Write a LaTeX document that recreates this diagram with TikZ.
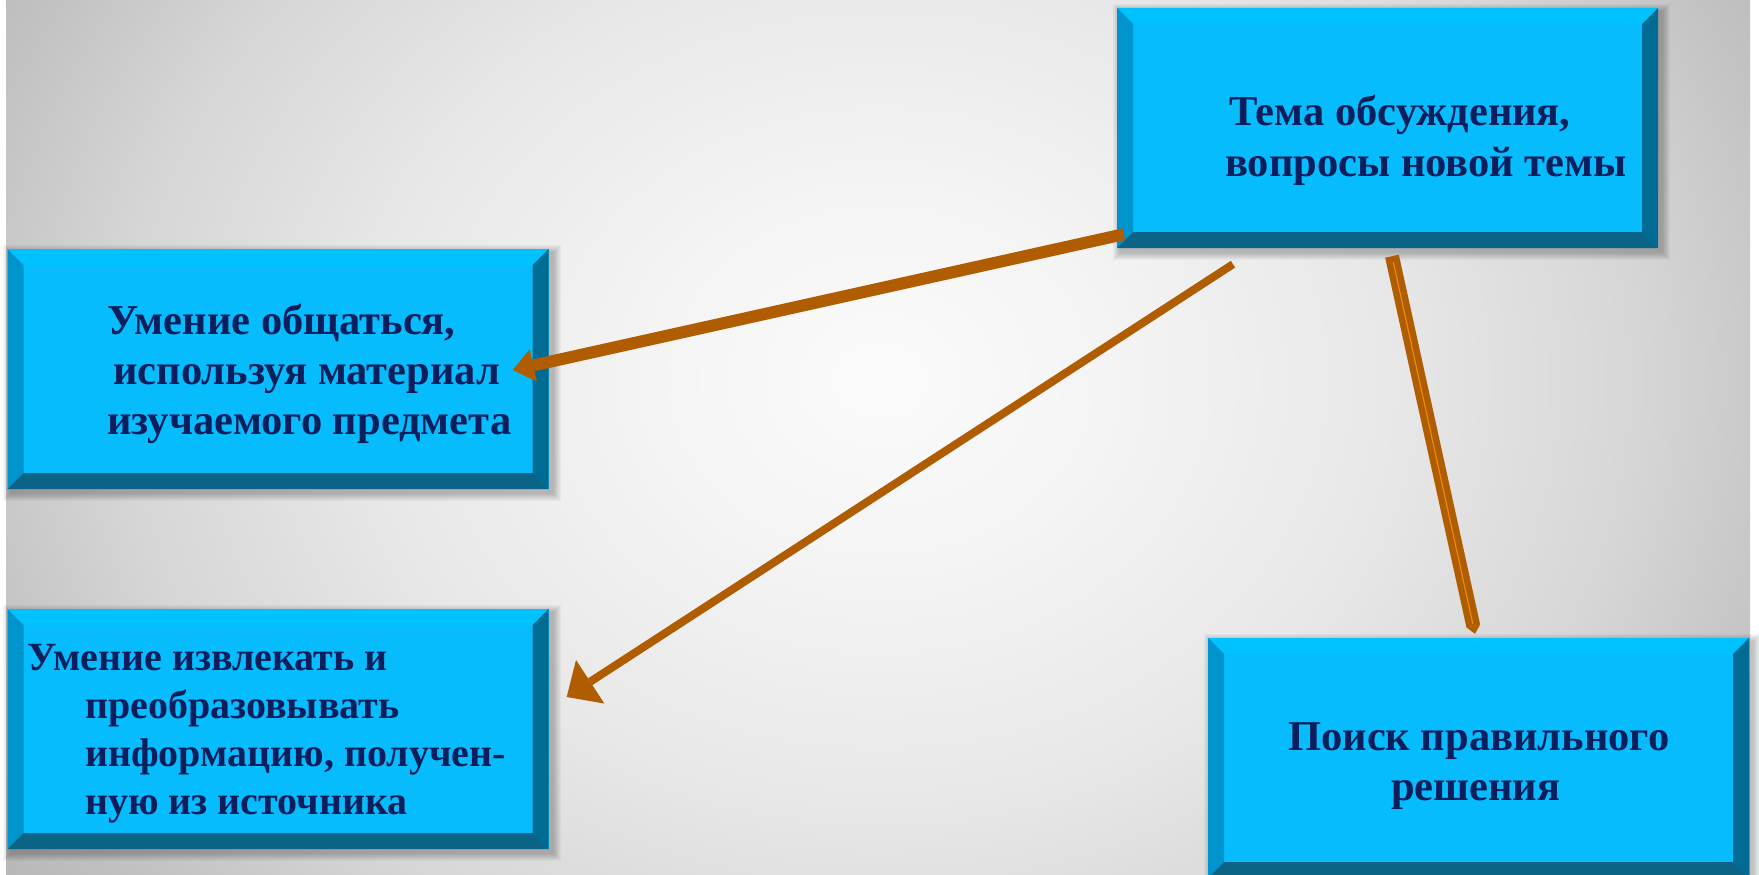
\documentclass[tikz,border=0pt]{standalone}
\usepackage{fontspec}
\setmainfont{Liberation Serif}
\usetikzlibrary{arrows.meta,calc,backgrounds}
\definecolor{boxface}{HTML}{06BCFD}
\definecolor{bevtop}{HTML}{00C2FF}
\definecolor{bevleft}{HTML}{0094CC}
\definecolor{bevright}{HTML}{006B94}
\definecolor{bevbottom}{HTML}{0B6485}
\definecolor{txtcol}{HTML}{0C1E5C}
\definecolor{arrcol}{HTML}{B05C00}
\definecolor{arrlight}{HTML}{E88A10}
\definecolor{bgA}{HTML}{FBFBFB}
\definecolor{bgB}{HTML}{F4F4F4}
\definecolor{bgC}{HTML}{E8E8E8}
\definecolor{bgD}{HTML}{D6D6D6}
\definecolor{bgE}{HTML}{C2C2C2}
\definecolor{bgF}{HTML}{B0B0B0}
\pgfdeclareradialshading{bgshade}{\pgfpoint{0bp}{0bp}}{color(0bp)=(bgA); color(5bp)=(bgB); color(11bp)=(bgC); color(16.5bp)=(bgD); color(20.5bp)=(bgE); color(25bp)=(bgF); color(50bp)=(bgF)}
\tikzset{
  bevelbox/.style={rectangle, inner sep=0pt, minimum width=541pt, minimum height=240pt, fill=boxface,
    path picture={
      \fill[bevtop] (path picture bounding box.north west) -- (path picture bounding box.north east)
        -- ([shift={(-16pt,-16pt)}]path picture bounding box.north east) -- ([shift={(16pt,-16pt)}]path picture bounding box.north west) -- cycle;
      \fill[bevleft] (path picture bounding box.north west) -- ([shift={(16pt,-16pt)}]path picture bounding box.north west)
        -- ([shift={(16pt,16pt)}]path picture bounding box.south west) -- (path picture bounding box.south west) -- cycle;
      \fill[bevright] (path picture bounding box.north east) -- (path picture bounding box.south east)
        -- ([shift={(-16pt,16pt)}]path picture bounding box.south east) -- ([shift={(-16pt,-16pt)}]path picture bounding box.north east) -- cycle;
      \fill[bevbottom] (path picture bounding box.south west) -- (path picture bounding box.south east)
        -- ([shift={(-16pt,16pt)}]path picture bounding box.south east) -- ([shift={(16pt,16pt)}]path picture bounding box.south west) -- cycle;
    }},
  txt/.style={anchor=base west, inner sep=0pt, font=\fontsize{42.5}{50}\selectfont\bfseries, text=txtcol},
  txtsmall/.style={txt, font=\fontsize{40}{48}\selectfont\bfseries},
  conn/.style={draw=arrcol, line width=#1},
}
\begin{document}
\begin{tikzpicture}[x=1pt,y=-1pt]
\useasboundingbox (0,0) rectangle (1759,875);
% boxes
\node[bevelbox] (T)  at (1387.5,128) {};
\node[bevelbox] (L1) at (278,369) {};
\node[bevelbox] (L2) at (278,729) {};
\node[bevelbox] (R)  at (1478.5,758) {};
% background and shadows
\begin{scope}[on background layer]
  \fill[white] (0,0) rectangle (1759,875);
  \begin{scope}
    \clip (6,0) rectangle (1750,875);
    \shade[shading=bgshade] (880,380) ellipse [x radius=1150, y radius=950];
  \end{scope}
  \foreach \n in {T,L1,L2,R}{
    \foreach \i in {1,...,8}{
      \fill[black,opacity=0.03] ([shift={({4-\i},{4-\i})}]\n.north west) rectangle ([shift={({4+\i},{4+\i})}]\n.south east);
    }
  }
\end{scope}
% texts
\node[txt] (t1) at (1229,125) {Тема обсуждения,};
\node[txt] (t2) at (1225,176) {вопросы новой темы};
\node[txt] (l1a) at (107,334) {Умение общаться,};
\node[txt] (l1b) at (113,384) {используя материал};
\node[txt] (l1c) at (107,434) {изучаемого предмета};
\node[txtsmall] (l2a) at (27,670) {Умение извлекать и};
\node[txtsmall] (l2b) at (85,718) {преобразовывать};
\node[txtsmall] (l2c) at (85,766) {информацию, получен-};
\node[txtsmall] (l2d) at (85,814) {ную из источника};
\node[txt] (r1) at (1288,750) {Поиск правильного};
\node[txt] (r2) at (1391,800) {решения};
% connector end points
\coordinate (a1s) at ($(T.south west)+(7pt,14pt)$);
\coordinate (a1e) at ($(L1.east)+(-36pt,-1pt)$);
\coordinate (a2s) at ($(T.south)+(-154.5pt,-16pt)$);
\coordinate (a2e) at ($(L2.east)+(18pt,32pt)$);
\coordinate (a3s) at ($(T.south)+(4.5pt,-8pt)$);
\coordinate (a3e) at ($(R.north)+(-3.5pt,4pt)$);
% connectors
\draw[conn=12pt, -{Triangle[length=21pt,width=33pt,line width=0pt]}] (a1s) -- (a1e);
\draw[conn=8pt, -{Triangle[length=28pt,width=52pt,line width=0pt]}] (a2s) -- (a2e);
\draw[conn=14pt, -{Triangle[length=8pt,width=14pt,line width=0pt]}] (a3s) -- (a3e);
\draw[draw=arrlight, line width=1.2pt, shorten <=6pt, shorten >=10pt] (a3s) -- (a3e);
\end{tikzpicture}
\end{document}
